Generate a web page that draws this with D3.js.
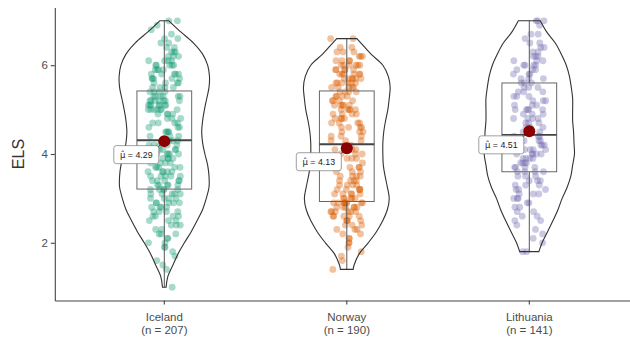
<!DOCTYPE html>
<html><head><meta charset="utf-8">
<script src="https://cdn.jsdelivr.net/npm/d3@7"></script>
<style>body{margin:0;background:#fff}svg{display:block}</style>
</head><body><svg id="c" width="630" height="342"></svg>
<script>
const categories = ["Iceland", "Norway", "Lithuania"];
const sampleSizes = [207, 190, 141];
const colors = ["#1B9E77", "#D95F02", "#7570B3"];
const means = [4.29, 4.13, 4.51];
const boxQ1 = [3.21, 2.93, 3.60];
const boxMedian = [4.31, 4.22, 4.43];
const boxQ3 = [5.42, 5.42, 5.60];
const whiskerLow = [1.0, 1.4, 1.8];
const whiskerHigh = [7.0, 6.6, 7.0];
const yTicks = [2, 4, 6];
const yLabel = "ELS";

// violin outlines: [value, relative density]
const violinIceland = [[1.0,0.04],[1.25,0.08],[1.5,0.19],[1.75,0.30],[2.0,0.44],[2.25,0.59],[2.5,0.72],[2.75,0.84],[3.0,0.92],[3.25,0.98],[3.5,0.98],[3.75,0.95],[4.0,0.89],[4.25,0.84],[4.5,0.82],[4.75,0.84],[5.0,0.88],[5.25,0.93],[5.5,0.98],[5.75,0.99],[6.0,0.95],[6.25,0.84],[6.5,0.64],[6.75,0.36],[7.0,0.10]];
const violinNorway = [[1.4,0.14],[1.5,0.16],[1.75,0.27],[2.0,0.47],[2.25,0.65],[2.5,0.79],[2.75,0.89],[3.0,0.93],[3.25,0.89],[3.5,0.84],[3.75,0.80],[4.0,0.79],[4.25,0.79],[4.5,0.81],[4.75,0.85],[5.0,0.90],[5.25,0.93],[5.5,0.95],[5.75,0.91],[6.0,0.79],[6.25,0.53],[6.5,0.31],[6.6,0.22]];
const violinLithuania = [[1.8,0.21],[2.0,0.28],[2.25,0.40],[2.5,0.52],[2.75,0.63],[3.0,0.72],[3.25,0.83],[3.5,0.91],[3.75,0.95],[4.0,0.99],[4.25,0.98],[4.5,0.97],[4.75,0.95],[5.0,0.95],[5.25,0.95],[5.5,0.92],[5.75,0.88],[6.0,0.81],[6.25,0.70],[6.5,0.57],[6.75,0.38],[7.0,0.24]];

const pointsIceland = [1.0,1.4,
1.5,1.6,1.7,1.8,1.9,1.9,
2.0,2.0,2.1,2.1,2.2,2.2,2.2,2.3,2.3,2.4,2.4,2.4,
2.5,2.5,2.5,2.6,2.6,2.6,2.6,2.7,2.7,2.7,2.7,2.8,2.8,2.8,2.8,2.9,2.9,2.9,2.9,2.9,
3.0,3.0,3.0,3.0,3.1,3.1,3.1,3.1,3.1,3.2,3.2,3.2,3.2,3.2,3.3,3.3,3.3,3.3,3.3,3.4,3.4,3.4,3.4,3.4,
3.5,3.5,3.5,3.5,3.5,3.6,3.6,3.6,3.6,3.6,3.7,3.7,3.7,3.7,3.7,3.8,3.8,3.8,3.8,3.9,3.9,3.9,3.9,3.9,
4.0,4.0,4.0,4.0,4.0,4.0,4.1,4.1,4.1,4.1,4.1,4.2,4.2,4.2,4.2,4.2,
4.3,4.3,4.3,4.4,4.4,4.4,
4.5,4.5,4.5,4.5,4.6,4.6,4.6,4.7,4.7,4.7,4.7,4.8,4.8,4.8,4.9,4.9,4.9,4.9,
5.0,5.0,5.0,5.0,5.0,5.0,5.0,5.1,5.1,5.1,5.1,5.1,5.1,5.1,5.2,5.2,5.2,5.2,5.2,5.2,5.2,5.3,5.3,5.3,5.3,5.3,5.3,
5.4,5.4,5.4,5.4,5.5,5.5,5.5,5.5,5.6,5.6,5.6,5.6,5.7,5.7,5.7,5.7,5.7,5.8,5.8,5.8,5.8,5.8,5.9,5.9,5.9,5.9,
6.0,6.0,6.0,6.0,6.0,6.1,6.1,6.1,6.1,6.2,6.2,6.2,6.3,6.3,6.3,6.4,6.4,
6.5,6.5,6.6,6.6,6.7,6.8,6.9,7.0,7.0];
const pointsNorway = [1.4,1.6,1.7,1.8,1.9,
2.0,2.0,2.1,2.1,2.2,2.2,2.3,2.3,2.3,2.4,2.4,2.4,
2.5,2.5,2.5,2.5,2.6,2.6,2.6,2.6,2.6,2.7,2.7,2.7,2.7,2.7,2.7,2.8,2.8,2.8,2.8,2.8,2.8,2.9,2.9,2.9,2.9,2.9,2.9,2.9,2.9,2.9,
3.0,3.0,3.0,3.0,3.0,3.1,3.1,3.1,3.1,3.1,3.2,3.2,3.2,3.2,3.2,3.3,3.3,3.3,3.3,3.4,3.4,3.4,3.4,3.5,3.5,3.5,3.5,3.6,3.6,3.6,3.7,3.7,3.7,3.7,3.8,3.8,3.8,3.9,3.9,3.9,4.0,4.0,4.0,4.1,4.1,4.1,4.2,4.2,
4.3,4.3,4.3,4.4,4.4,4.4,4.5,4.5,4.5,4.6,4.6,4.6,4.6,4.7,4.7,4.7,4.7,4.8,4.8,4.8,4.8,4.9,4.9,4.9,4.9,5.0,5.0,5.0,5.0,5.0,5.1,5.1,5.1,5.1,5.1,5.2,5.2,5.2,5.2,5.3,5.3,5.3,5.3,5.4,5.4,5.4,5.4,
5.5,5.5,5.5,5.5,5.5,5.6,5.6,5.6,5.6,5.6,5.6,5.7,5.7,5.7,5.7,5.7,5.7,5.8,5.8,5.8,5.8,5.8,5.8,5.9,5.9,5.9,5.9,5.9,6.0,6.0,6.0,6.0,6.0,6.0,6.1,6.1,6.1,6.1,6.2,6.2,6.2,6.3,6.3,6.3,6.4,6.4,6.6,6.6];
const pointsLithuania = [1.8,1.8,2.0,2.1,2.2,2.3,2.4,
2.5,2.5,2.6,2.6,2.7,2.7,2.8,2.8,2.9,2.9,3.0,3.0,3.0,3.1,3.1,3.1,3.2,3.2,3.2,3.3,3.3,3.3,3.4,3.4,3.4,3.5,3.5,3.5,
3.6,3.6,3.6,3.6,3.7,3.7,3.7,3.7,3.8,3.8,3.8,3.8,3.9,3.9,3.9,3.9,4.0,4.0,4.0,4.0,4.0,4.1,4.1,4.1,4.1,4.2,4.2,4.2,4.2,4.3,4.3,4.3,4.4,4.4,4.4,
4.5,4.5,4.5,4.6,4.6,4.6,4.7,4.7,4.7,4.8,4.8,4.8,4.8,4.9,4.9,4.9,5.0,5.0,5.0,5.0,5.0,5.1,5.1,5.1,5.2,5.2,5.2,5.3,5.3,5.3,5.4,5.4,5.4,5.5,5.5,5.5,
5.6,5.6,5.6,5.7,5.7,5.7,5.8,5.8,5.8,5.9,5.9,5.9,6.0,6.0,6.0,6.0,6.1,6.1,6.1,6.2,6.2,6.2,6.3,6.3,6.4,6.4,6.5,6.5,6.6,6.7,6.7,6.9,7.0,7.0,7.0];

const violins = [violinIceland, violinNorway, violinLithuania];
const points = [pointsIceland, pointsNorway, pointsLithuania];

const svg = d3.select("#c");
const font = "'Liberation Sans', Arial, sans-serif";

const x = d3.scaleBand().domain(categories).range([54.8, 638.8]).paddingInner(0).paddingOuter(0.1);
const y = d3.scaleLinear().domain([0.7, 7.3]).range([300.5, 7.5]);
const step = x.bandwidth();
const cx = c => x(c) + step / 2;
const vw = d3.scaleLinear().domain([0, 1]).range([0, step * 0.25]);

// deterministic horizontal jitter (position only, not data)
const hash = (i, k) => { const s = Math.sin(i * 12.9898 + k * 78.233) * 43758.5453; return s - Math.floor(s); };
const jitterHalf = 0.09 * step;

const g = svg.append("g");

// points
categories.forEach((c, gi) => {
  g.append("g").selectAll("circle").data(points[gi]).join("circle")
    .attr("cx", (d, i) => cx(c) + (hash(i + 1, gi + 1) - 0.5) * 2 * jitterHalf)
    .attr("cy", d => y(d))
    .attr("r", 3.4)
    .attr("fill", colors[gi])
    .attr("fill-opacity", 0.38);
});

// boxplots
categories.forEach((c, gi) => {
  const bx = cx(c), hw = step * 0.15;
  const bg = g.append("g").attr("fill", "none");
  bg.append("line").attr("x1", bx).attr("x2", bx).attr("y1", y(boxQ3[gi])).attr("y2", y(whiskerHigh[gi]))
    .attr("stroke", "#555").attr("stroke-width", 1);
  bg.append("line").attr("x1", bx).attr("x2", bx).attr("y1", y(boxQ1[gi])).attr("y2", y(whiskerLow[gi]))
    .attr("stroke", "#555").attr("stroke-width", 1);
  bg.append("rect").attr("x", bx - hw).attr("width", 2 * hw)
    .attr("y", y(boxQ3[gi])).attr("height", y(boxQ1[gi]) - y(boxQ3[gi]))
    .attr("stroke", "#666").attr("stroke-width", 1);
  bg.append("line").attr("x1", bx - hw).attr("x2", bx + hw).attr("y1", y(boxMedian[gi])).attr("y2", y(boxMedian[gi]))
    .attr("stroke", "#444").attr("stroke-width", 1.8);
});

// violins
const area = d3.area().curve(d3.curveCatmullRom);
categories.forEach((c, gi) => {
  const vx = cx(c);
  area.y(d => y(d[0])).x0(d => vx - vw(d[1])).x1(d => vx + vw(d[1]));
  g.append("path").attr("d", area(violins[gi]))
    .attr("fill", "none").attr("stroke", "#333").attr("stroke-width", 1.1);
});

// means + labels
categories.forEach((c, gi) => {
  const mx = cx(c), my = y(means[gi]);
  const lx = mx - 28, ly = my + 13.5;
  g.append("line").attr("x1", lx + 21).attr("y1", ly - 7).attr("x2", mx).attr("y2", my)
    .attr("stroke", "#222").attr("stroke-width", 0.8);
  g.append("circle").attr("cx", mx).attr("cy", my).attr("r", 6).attr("fill", "#8B0000");
  const lg = g.append("g");
  lg.append("rect").attr("x", lx - 22.5).attr("y", ly - 9).attr("width", 45).attr("height", 18)
    .attr("rx", 2.5).attr("fill", "#fff").attr("stroke", "#777").attr("stroke-width", 0.7);
  const t = lg.append("text").attr("x", lx).attr("y", ly + 3.2)
    .attr("text-anchor", "middle").attr("font-family", "'DejaVu Sans', sans-serif").attr("font-size", 8.5).attr("fill", "#222");
  t.append("tspan").text("\u03BC\u0302");
  t.append("tspan").attr("font-family", font).attr("font-size", 8.8).text(" = " + means[gi].toFixed(2));
});

// axes
const xAxis = svg.append("g").attr("transform", `translate(0,${y.range()[0]})`)
  .call(d3.axisBottom(x).tickSize(4).tickSizeOuter(0).tickFormat(""));
const yAxis = svg.append("g").attr("transform", `translate(${x.range()[0]},0)`)
  .call(d3.axisLeft(y).tickValues(yTicks).tickFormat(d3.format("d")).tickSize(4).tickSizeOuter(0));
[xAxis, yAxis].forEach(a => {
  a.select(".domain").attr("stroke", "#444").attr("stroke-width", 1.1);
  a.selectAll(".tick line").attr("stroke", "#444").attr("stroke-width", 1.1);
});
yAxis.selectAll(".tick text").attr("font-family", font).attr("font-size", 11.5).attr("fill", "#4D4D4D").attr("x", -7);

const xl = xAxis.selectAll(".tick").append("text").attr("fill", "#4D4D4D")
  .attr("font-family", font).attr("font-size", 11.5).attr("text-anchor", "middle");
xl.append("tspan").attr("x", 0).attr("y", 20).text(d => d);
xl.append("tspan").attr("x", 0).attr("y", 33).text(d => `(n = ${sampleSizes[categories.indexOf(d)]})`);

svg.append("text").attr("transform", `translate(24,${y(4)}) rotate(-90)`)
  .attr("text-anchor", "middle").attr("font-family", font).attr("font-size", 16).attr("fill", "#333")
  .text(yLabel);
</script>
</body></html>
